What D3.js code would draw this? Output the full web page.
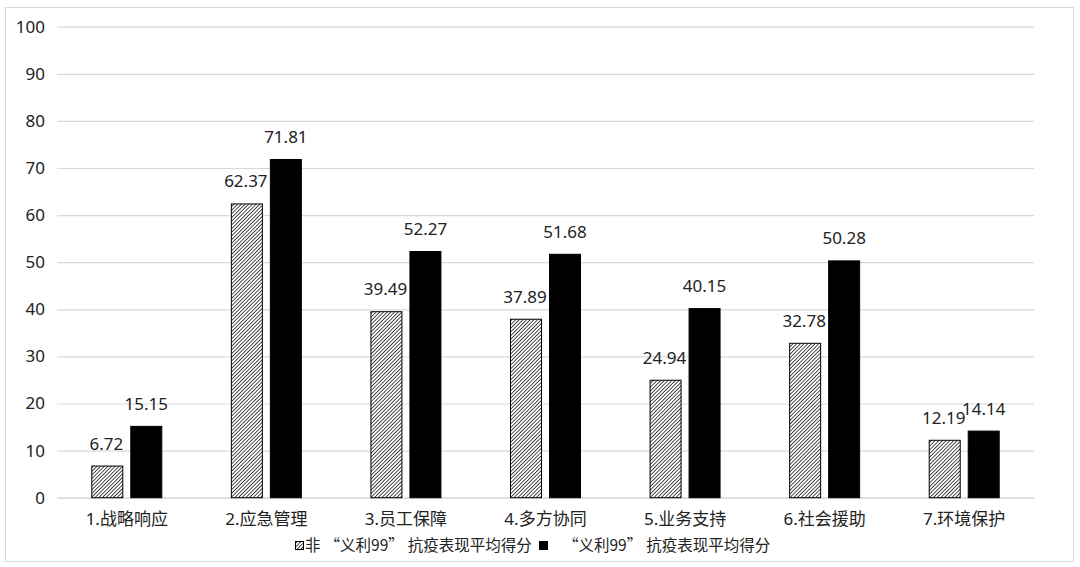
<!DOCTYPE html>
<html><head><meta charset="utf-8">
<script src="https://cdn.jsdelivr.net/npm/d3@7"></script>
<style>
body{margin:0;background:#fff;}
text{font-family:"Noto Sans","Noto Sans CJK SC",sans-serif;fill:#222;}
.lg{font-family:"Noto Sans CJK SC","Noto Sans",sans-serif;}
</style></head>
<body><svg id="c" width="1080" height="567"></svg>
<script>
const categories=["1.战略响应","2.应急管理","3.员工保障","4.多方协同","5.业务支持","6.社会援助","7.环境保护"];
const seriesA=[6.72,62.37,39.49,37.89,24.94,32.78,12.19];
const seriesB=[15.15,71.81,52.27,51.68,40.15,50.28,14.14];
const seriesNames=["非“义利99”抗疫表现平均得分","“义利99”抗疫表现平均得分"];
const yTicks=[0,10,20,30,40,50,60,70,80,90,100];

const svg=d3.select("#c");
const defs=svg.append("defs");
const pw=2.6;
const pat=defs.append("pattern").attr("id","hatch").attr("patternUnits","userSpaceOnUse")
  .attr("width",pw).attr("height",pw).attr("patternTransform","rotate(45)");
pat.append("rect").attr("width",pw).attr("height",pw).attr("fill","#fff");
pat.append("line").attr("x1",0).attr("y1",0).attr("x2",0).attr("y2",pw).attr("stroke","#000").attr("stroke-width",1.4);

svg.append("rect").attr("x",5.5).attr("y",7.5).attr("width",1068).attr("height",554)
  .attr("fill","#fff").attr("stroke","#d9d9d9");

const x=d3.scaleBand().domain(categories).range([57,1034]);
const y=d3.scaleLinear().domain([0,100]).range([497.7,26.7]);

const gy=svg.append("g").attr("transform","translate(57,0)")
  .call(d3.axisLeft(y).tickValues(yTicks).tickSize(-977).tickPadding(12));
gy.select(".domain").remove();
gy.selectAll(".tick line").attr("stroke","#d9d9d9").attr("stroke-width",1.2);
gy.selectAll(".tick text").style("font-size","17px").attr("fill","#222");

const gx=svg.append("g").attr("transform","translate(0,497.7)")
  .call(d3.axisBottom(x).tickSize(0).tickPadding(15));
gx.select(".domain").attr("stroke","#d9d9d9").attr("stroke-width",1.2);
gx.selectAll(".tick text").style("font-size","17px").attr("fill","#222");

const bw=31, gap=8;
const cx=c=>x(c)+x.bandwidth()/2;
const g=svg.append("g");
categories.forEach((c,i)=>{
  const xa=cx(c)-gap/2-bw, xb=cx(c)+gap/2;
  g.append("rect").attr("x",xa).attr("y",y(seriesA[i])).attr("width",bw).attr("height",y(0)-y(seriesA[i]))
    .attr("fill","url(#hatch)").attr("stroke","#000").attr("stroke-width",1);
  g.append("rect").attr("x",xb).attr("y",y(seriesB[i])).attr("width",bw).attr("height",y(0)-y(seriesB[i]))
    .attr("fill","#000").attr("stroke","#000").attr("stroke-width",1);
  g.append("text").attr("x",xa+bw/2-1).attr("y",y(seriesA[i])-16.5).attr("text-anchor","middle")
    .style("font-size","17px").text(seriesA[i].toFixed(2));
  g.append("text").attr("x",xb+bw/2).attr("y",y(seriesB[i])-16.5).attr("text-anchor","middle")
    .style("font-size","17px").text(seriesB[i].toFixed(2));
});

function legendText(sel,str){
  let prevClose=false;
  str.split(/([“”])/).filter(s=>s.length).forEach((s,k)=>{
    const t=sel.append("tspan").text(s);
    if(s==="“"&&k>0) t.attr("dx",4);
    if(prevClose) t.attr("dx",4);
    prevClose=(s==="”");
  });
}
const lg=svg.append("g");
lg.append("rect").attr("x",295.5).attr("y",541.5).attr("width",8).attr("height",8).attr("fill","url(#hatch)").attr("stroke","#000");
legendText(lg.append("text").attr("class","lg").attr("x",305).attr("y",551).style("font-size","15.5px"),seriesNames[0]);
lg.append("rect").attr("x",539.5).attr("y",541.5).attr("width",8).attr("height",8).attr("fill","#000").attr("stroke","#000");
legendText(lg.append("text").attr("class","lg").attr("x",563).attr("y",551).style("font-size","15.5px"),seriesNames[1]);
</script></body></html>
